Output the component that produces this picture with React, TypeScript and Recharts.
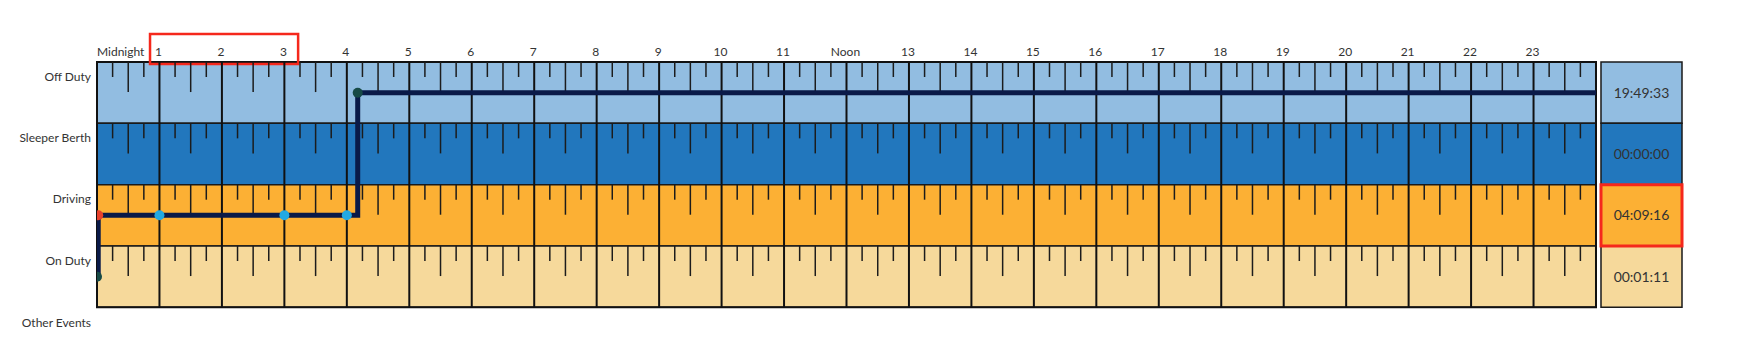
import {
  ComposedChart,
  Line,
  Scatter,
  XAxis,
  YAxis,
  ReferenceArea,
  ReferenceLine,
} from "recharts";

// hour labels along the top
const HOUR_LABELS = [
  "Midnight", "1", "2", "3", "4", "5", "6", "7", "8", "9", "10", "11",
  "Noon", "13", "14", "15", "16", "17", "18", "19", "20", "21", "22", "23",
];

const STATUSES = ["Off Duty", "Sleeper Berth", "Driving", "On Duty"];
const EXTRA_ROW = "Other Events";
const TOTALS = ["19:49:33", "00:00:00", "04:09:16", "00:01:11"];

// status changes: hour of day -> status row index
const CHANGE_HOURS = [0, 0.0197, 4.1742, 24];
const CHANGE_STATUS = [3, 2, 0, 0];

// light blue markers on the driving segment
const DRIVING_MARK_HOURS = [1, 3, 4];

const ROW_COLORS = ["#92bde1", "#2277bd", "#fcb034", "#f6d99b"];
const LINE_COLOR = "#0a1a48";
const FONT = "Lato, 'Open Sans', sans-serif";

const X_MAX = 25.393;
const TOTAL_X1 = 24.08;
const TOTAL_X2 = 25.377;
const HIGHLIGHT_ROW = 2;

const lineData = CHANGE_HOURS.map((t, i) => ({ t, s: CHANGE_STATUS[i] + 0.5 }));
const startDot = [{ t: CHANGE_HOURS[0], s: CHANGE_STATUS[0] + 0.5 }];
const redDot = [{ t: CHANGE_HOURS[1], s: CHANGE_STATUS[1] + 0.5 }];
const tealDot = [{ t: CHANGE_HOURS[2], s: CHANGE_STATUS[2] + 0.5 }];
const blueDots = DRIVING_MARK_HOURS.map((t) => ({ t, s: 2.5 }));

const HOURS = HOUR_LABELS.map((_, i) => i);
const QUARTERS = [0.25, 0.5, 0.75];

function HourTick(props: any) {
  const { x, payload } = props;
  const i = payload.value as number;
  return (
    <text
      x={i === 0 ? x : x - 1}
      y={43}
      textAnchor={i === 0 ? "start" : "middle"}
      dominantBaseline="central"
      fontSize={12}
      fontFamily={FONT}
      fill="#333"
    >
      {HOUR_LABELS[i]}
    </text>
  );
}

function RowTick(props: any) {
  const { y, payload } = props;
  const idx = Math.floor(payload.value);
  const label = idx < STATUSES.length ? STATUSES[idx] : EXTRA_ROW;
  return (
    <text
      x={83}
      y={y}
      textAnchor="end"
      dominantBaseline="central"
      fontSize={12}
      fontFamily={FONT}
      fill="#333"
    >
      {label}
    </text>
  );
}

const dot = (color: string) => (p: any) =>
  <circle cx={p.cx} cy={p.cy} r={5} fill={color} />;

export default function App() {
  return (
    <div style={{ width: 1700, height: 350 }}>
      <ComposedChart
        width={1700}
        height={350}
        margin={{ top: 34, right: 25, bottom: 20, left: 0 }}
      >
        <XAxis
          type="number"
          dataKey="t"
          orientation="top"
          domain={[0, X_MAX]}
          ticks={HOURS}
          height={20}
          axisLine={false}
          tickLine={false}
          tick={<HourTick />}
          allowDataOverflow
        />
        <YAxis
          type="number"
          dataKey="s"
          domain={[0, 4.5]}
          reversed
          ticks={[0.23, 1.23, 2.23, 3.23, 4.24]}
          width={89}
          axisLine={false}
          tickLine={false}
          tick={<RowTick />}
          allowDataOverflow
        />

        {STATUSES.map((name, r) => (
          <ReferenceArea
            key={"row" + name}
            x1={0}
            x2={24}
            y1={r}
            y2={r + 1}
            fill={ROW_COLORS[r]}
            fillOpacity={1}
            stroke="#1a1a1a"
            strokeWidth={1.5}
          />
        ))}

        {STATUSES.map((name, r) =>
          HOURS.map((h) =>
            QUARTERS.map((q) => (
              <ReferenceLine
                key={`tk${r}-${h}-${q}`}
                segment={[
                  { x: h + q, y: r },
                  { x: h + q, y: r + (q === 0.5 ? 0.49 : 0.245) },
                ]}
                stroke="#1c1c1c"
                strokeWidth={1.5}
              />
            ))
          )
        )}

        {HOURS.slice(1).map((h) => (
          <ReferenceLine
            key={"hr" + h}
            segment={[
              { x: h, y: 0 },
              { x: h, y: 4 },
            ]}
            stroke="#111"
            strokeWidth={2}
          />
        ))}

        <ReferenceArea
          x1={0}
          x2={24}
          y1={0}
          y2={4}
          fill="none"
          stroke="#111"
          strokeWidth={2}
        />

        {TOTALS.map((v, r) => (
          <ReferenceArea
            key={"tot" + r}
            x1={TOTAL_X1}
            x2={TOTAL_X2}
            y1={r}
            y2={r + 1}
            fill={ROW_COLORS[r]}
            fillOpacity={1}
            stroke="#1a1a1a"
            strokeWidth={1.5}
            ifOverflow="visible"
            label={{
              value: v,
              position: "center",
              fontSize: 14,
              fontFamily: FONT,
              fill: "#333",
            }}
          />
        ))}
        <ReferenceArea
          x1={TOTAL_X1}
          x2={TOTAL_X2}
          y1={HIGHLIGHT_ROW}
          y2={HIGHLIGHT_ROW + 1}
          fill="none"
          stroke="#f5281c"
          strokeWidth={3}
          ifOverflow="visible"
        />

        <ReferenceArea
          x1={0.849}
          x2={3.22}
          y1={-0.457}
          y2={0.033}
          fill="none"
          stroke="#f5281c"
          strokeWidth={2.5}
          ifOverflow="visible"
        />

        <Line
          data={lineData}
          dataKey="s"
          type="stepAfter"
          stroke={LINE_COLOR}
          strokeWidth={5}
          dot={false}
          isAnimationActive={false}
        />
        <Scatter data={redDot} dataKey="s" shape={dot("#e8412c")} isAnimationActive={false} />
        <Scatter data={startDot} dataKey="s" shape={dot("#174a46")} isAnimationActive={false} />
        <Scatter data={tealDot} dataKey="s" shape={dot("#174a46")} isAnimationActive={false} />
        <Scatter data={blueDots} dataKey="s" shape={dot("#22a9e2")} isAnimationActive={false} />
      </ComposedChart>
    </div>
  );
}
